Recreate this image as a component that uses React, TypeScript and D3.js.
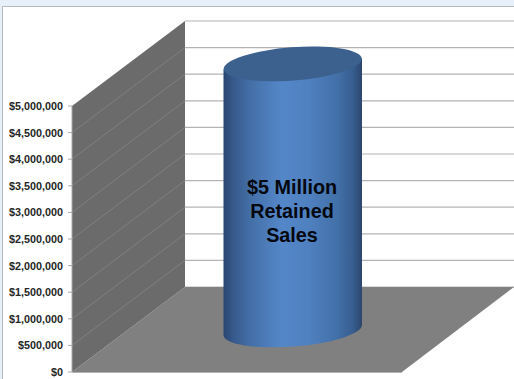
import React from "react";
import * as d3 from "d3";

const width = 514;
const height = 379;

const tickValues = [0, 500000, 1000000, 1500000, 2000000, 2500000, 3000000, 3500000, 4000000, 4500000, 5000000];
const seriesValues = [5000000];
const calloutLines = ["$5 Million", "Retained", "Sales"];

const frontX = 72;
const floorFrontRight = 402;
const depthX = 113;
const depthY = 85;

const y = d3.scaleLinear().domain([0, 5000000]).range([372, 106]);
const money = d3.format("$,.0f");

const cylinder = { left: 223.5, right: 362, depthShare: 0.495, ry: 16.6, tilt: -4.4 };

export default function App() {
  const backX = frontX + depthX;
  const cx = (cylinder.left + cylinder.right) / 2;
  const rx = (cylinder.right - cylinder.left) / 2;
  const baseY = y(0) - depthY * cylinder.depthShare;
  const topY = y(seriesValues[0]) - depthY * cylinder.depthShare;
  const rad = (cylinder.tilt * Math.PI) / 180;
  const edgeDy = rx * Math.sin(rad);

  const wall = d3.line()([
    [frontX, y(5000000)],
    [backX, y(5000000) - depthY],
    [backX, y(0) - depthY],
    [frontX, y(0)],
  ]) + "Z";
  const floor = d3.line()([
    [frontX, y(0)],
    [backX, y(0) - depthY],
    [width, y(0) - depthY],
    [floorFrontRight, y(0)],
  ]) + "Z";
  const body =
    `M${cylinder.left},${topY - edgeDy} L${cylinder.right},${topY + edgeDy} ` +
    `L${cylinder.right},${baseY + edgeDy} ` +
    `A${rx},${cylinder.ry} ${cylinder.tilt} 0 1 ${cylinder.left},${baseY - edgeDy} Z`;

  return (
    <svg
      width={width}
      height={height}
      viewBox={`0 0 ${width} ${height}`}
      style={{ position: "fixed", left: 0, top: 0, display: "block" }}
    >
      <defs>
        <linearGradient id="barShade" x1="0" x2="1" y1="0" y2="0">
          <stop offset="0" stopColor="#2a4670" />
          <stop offset="0.07" stopColor="#37598c" />
          <stop offset="0.2" stopColor="#4470a8" />
          <stop offset="0.42" stopColor="#5487c9" />
          <stop offset="0.62" stopColor="#4f80bf" />
          <stop offset="0.82" stopColor="#4270a8" />
          <stop offset="0.93" stopColor="#385f91" />
          <stop offset="1" stopColor="#2c466d" />
        </linearGradient>
      </defs>

      <rect width={width} height={height} fill="#ffffff" />
      <rect width={width} height={6} fill="#e7eff9" />
      <rect width={3} height={height} fill="#e7eff9" />
      <line x1={2.5} x2={width} y1={6.5} y2={6.5} stroke="#b5bac2" />
      <line x1={2.5} x2={2.5} y1={6.5} y2={height} stroke="#b5bac2" />

      {tickValues.map((v) => (
        <line key={`back-${v}`} x1={backX} x2={width} y1={y(v) - depthY} y2={y(v) - depthY} stroke="#b3b3b3" strokeWidth={1.2} />
      ))}

      <path d={floor} fill="#808080" />
      <path d={wall} fill="#6b6b6b" />
      {tickValues.slice(1, -1).map((v) => (
        <line key={`side-${v}`} x1={frontX} x2={backX} y1={y(v)} y2={y(v) - depthY} stroke="#858585" strokeWidth={0.8} />
      ))}

      <line x1={frontX} x2={frontX} y1={y(5000000)} y2={y(0)} stroke="#a8a8a8" />
      <line x1={frontX} x2={floorFrontRight} y1={y(0) + 0.5} y2={y(0) + 0.5} stroke="#b3b3b3" />

      {tickValues.map((v) => (
        <g key={`tick-${v}`}>
          <line x1={68} x2={frontX} y1={y(v)} y2={y(v)} stroke="#a8a8a8" />
          <text
            x={63}
            y={y(v)}
            dy="0.37em"
            textAnchor="end"
            fontFamily="'Liberation Sans', Arial, sans-serif"
            fontWeight={700}
            fontSize={10.8}
            fill="#262626"
          >
            {money(v)}
          </text>
        </g>
      ))}

      <path d={body} fill="url(#barShade)" />
      <ellipse
        cx={cx}
        cy={topY}
        rx={rx}
        ry={cylinder.ry}
        transform={`rotate(${cylinder.tilt} ${cx} ${topY})`}
        fill="#3c618f"
      />

      {calloutLines.map((line, i) => (
        <text
          key={line}
          x={292}
          y={194 + i * 24}
          textAnchor="middle"
          fontFamily="'Liberation Sans', Arial, sans-serif"
          fontWeight={700}
          fontSize={19.8}
          fill="#05080f"
        >
          {line}
        </text>
      ))}
    </svg>
  );
}
